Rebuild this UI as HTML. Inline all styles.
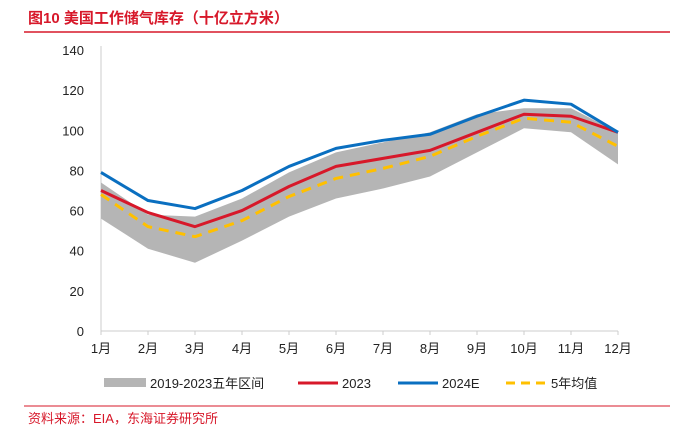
<!DOCTYPE html>
<html><head><meta charset="utf-8"><style>
body{margin:0;background:#fff;width:688px;height:433px;overflow:hidden;font-family:"Liberation Sans","Noto Sans CJK SC",sans-serif}
</style></head><body>
<svg id="c" width="688" height="433" style="position:absolute;left:0;top:0">
<text x="28" y="23" font-size="15" font-weight="bold" fill="#d7182a" font-family="Liberation Sans,Noto Sans CJK SC,sans-serif">图10  美国工作储气库存（十亿立方米）</text>
<line x1="24" y1="32" x2="670" y2="32" stroke="#d7182a" stroke-width="1.5"/>
<line x1="24" y1="406" x2="670" y2="406" stroke="#d7182a" stroke-width="1"/>
<text x="28" y="423" font-size="13" fill="#d7182a" font-family="Liberation Sans,Noto Sans CJK SC,sans-serif">资料来源：EIA，东海证券研究所</text>
<g id="plot"></g>
<g id="legend" font-size="13" fill="#222" font-family="Liberation Sans,Noto Sans CJK SC,sans-serif">
<rect x="104" y="378" width="42" height="9" fill="#b5b5b5"/>
<text x="150" y="388">2019-2023五年区间</text>
<line x1="298" y1="383" x2="338" y2="383" stroke="#d7182a" stroke-width="3"/>
<text x="342" y="388">2023</text>
<line x1="398" y1="383" x2="438" y2="383" stroke="#0a6fc0" stroke-width="3"/>
<text x="442" y="388">2024E</text>
<line x1="506" y1="383" x2="546" y2="383" stroke="#ffc000" stroke-width="3" stroke-dasharray="9,6"/>
<text x="551" y="388">5年均值</text>
</g>
</svg>
<script>
const categories=["1月","2月","3月","4月","5月","6月","7月","8月","9月","10月","11月","12月"];
const bandUpper=[74,58,57,66,79,89,94,99,108,111,111,99];
const bandLower=[56,41,34,45,57,66,71,77,89,101,99,83];
const s2023=[70,59,52,60,72,82,86,90,99,108,107,99];
const s2024E=[79,65,61,70,82,91,95,98,107,115,113,99];
const s5yr=[68,52,47,55,67,76,81,87,97,106,104,92];
const yTicks=[0,20,40,60,80,100,120,140];
const NS="http://www.w3.org/2000/svg";
const g=document.getElementById('plot');
const X0=101,X1=618,Y0=331,Y1=50;
const x=i=>X0+i*(X1-X0)/(categories.length-1);
const y=v=>Y0-v*(Y0-Y1)/140;
function mk(t,a){const e=document.createElementNS(NS,t);for(const k in a)e.setAttribute(k,a[k]);g.appendChild(e);return e;}
let e=mk('line',{x1:X0,y1:Y1-4,x2:X0,y2:Y0,stroke:'#ccc'});


e=mk('line',{x1:X0,y1:Y0,x2:X1,y2:Y0,stroke:'#ccc'});


yTicks.forEach(v=>{const t=mk('text',{x:X0-17,y:y(v)+5,'font-size':13,'text-anchor':'end',fill:'#222'});t.textContent=v;

});
categories.forEach((c,i)=>{mk('line',{x1:x(i),y1:Y0,x2:x(i),y2:Y0+4,stroke:'#ccc'});
const t=mk('text',{x:x(i),y:Y0+22,'font-size':13,'text-anchor':'middle',fill:'#222'});t.textContent=c;

});
let pts=bandUpper.map((v,i)=>x(i)+','+y(v)).concat(bandLower.map((v,i)=>x(i)+','+y(v)).reverse());
e=mk('polygon',{points:pts.join(' '),fill:'#b5b5b5'});


function line(d,col,name,dash){const l=mk('polyline',{points:d.map((v,i)=>x(i)+','+y(v)).join(' '),fill:'none',stroke:col,'stroke-width':3,'stroke-linejoin':'round'});if(dash)l.setAttribute('stroke-dasharray',dash);return l;}
e=line(s5yr,'#ffc000','',"10,7");


e=line(s2023,'#d7182a','');


e=line(s2024E,'#0a6fc0','');


</script>
</body></html>
